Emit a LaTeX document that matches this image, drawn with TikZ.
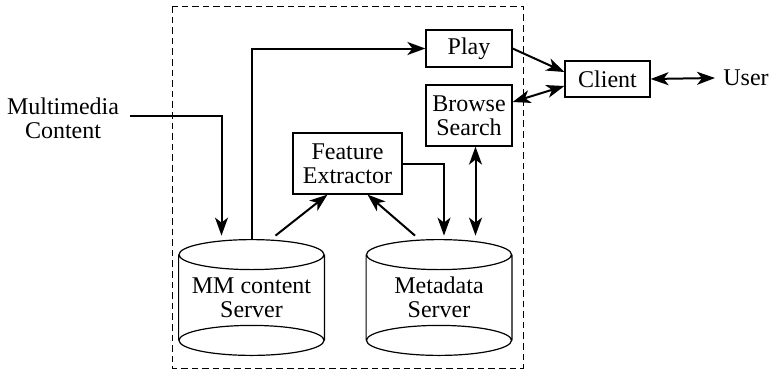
\documentclass[tikz,border=0pt]{standalone}
\usepackage{fontspec}
\setmainfont{Liberation Serif}
\usetikzlibrary{arrows.meta}
\begin{document}
\begin{tikzpicture}[x=0.5pt, y=-0.5pt,
    box/.style={draw, line width=0.6pt, align=center, inner sep=0pt, font=\fontsize{12}{12}\selectfont},
    store/.style={align=center, inner sep=0pt, minimum width=72.5pt, minimum height=57.5pt, font=\fontsize{12}{12}\selectfont},
    flow/.style={line width=1pt, -{Stealth[length=9pt, width=6.5pt, inset=2.5pt]}},
    biflow/.style={line width=1pt, {Stealth[length=9pt, width=6.5pt, inset=2.5pt]}-{Stealth[length=9pt, width=6.5pt, inset=2.5pt]}}]
    \useasboundingbox (0,0) rectangle (772,371);
    \draw[line width=0.5pt, dash pattern=on 3.3pt off 2pt] (172,6) rectangle (523,368);
    \node[box, minimum width=43pt, minimum height=18.5pt] (play) at (469,48.5) {Play};
    \node[box, minimum width=43pt, minimum height=30.5pt] (browse) at (469,115.5) {Browse\\Search};
    \node[box, minimum width=42.5pt, minimum height=18pt] (client) at (607.5,79) {Client};
    \node[box, minimum width=54.5pt, minimum height=30.5pt] (fe) at (347.5,163.5) {Feature\\Extractor};
    \node[anchor=west, inner sep=4pt, font=\fontsize{12}{12}\selectfont] (user) at (715,78) {User};
    \node[align=center, inner sep=0pt, font=\fontsize{12}{12}\selectfont] (mmtext) at (63,118) {Multimedia\\Content};
    \node[store] (mm) at (251.5,297.5) {MM content\\Server};
    \node[store] (meta) at (439,297.5) {Metadata\\Server};
    % cylinder outlines
    \foreach \c in {mm,meta} {
      \draw[line width=0.6pt] ([yshift=-7.5pt]\c.north) ellipse [x radius=36.25pt, y radius=7.5pt]
        ([yshift=7.5pt]\c.south) ellipse [x radius=36.25pt, y radius=7.5pt]
        ([yshift=-7.5pt]\c.north west) -- ([yshift=7.5pt]\c.south west)
        ([yshift=-7.5pt]\c.north east) -- ([yshift=7.5pt]\c.south east);
    }
    \draw[flow] ([xshift=5.5pt, yshift=1pt]mmtext.east) -| ([xshift=-15pt, yshift=2pt]mm.north);
    \draw[flow] (mm.north) |- (play.west);
    \draw[flow] ([xshift=12pt, yshift=2pt]mm.north) -- ([xshift=-10pt]fe.south);
    \draw[flow] ([xshift=-12pt, yshift=2pt]meta.north) -- ([xshift=10pt]fe.south);
    \draw[flow] (fe.east) -| ([xshift=2.5pt, yshift=2pt]meta.north);
    \draw[biflow] ([xshift=3.25pt]browse.south) -- ([xshift=3.25pt, yshift=2pt]browse.south |- meta.north);
    \draw[flow] (play.east) -- ([yshift=3.5pt]client.west);
    \draw[biflow] ([yshift=6.75pt]browse.east) -- ([yshift=-3.5pt]client.west);
    \draw[biflow] (client.east) -- (user.west);
\end{tikzpicture}
\end{document}
